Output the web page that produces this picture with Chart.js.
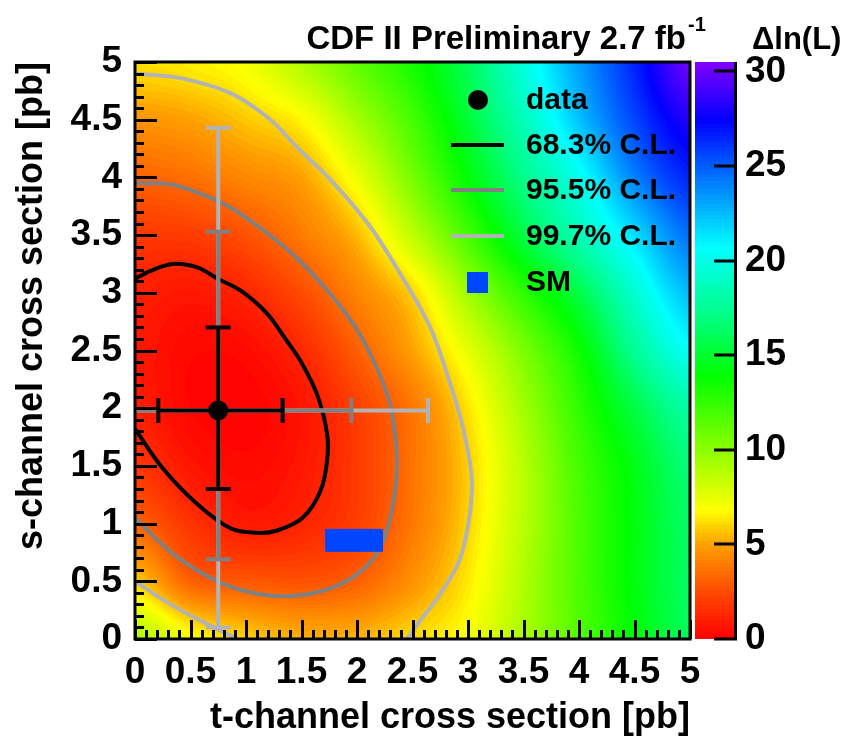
<!DOCTYPE html>
<html lang="en">
<head>
<meta charset="UTF-8"/>
<meta name="viewport" content="width=device-width, initial-scale=1.0"/>
<title>s-channel vs t-channel likelihood</title>
<script src="https://cdn.jsdelivr.net/npm/chart.js"></script>
<style>
    html, body { margin: 0; padding: 0; background: #ffffff; }
    #wrap { width: 848px; height: 742px; position: relative; }
</style>
</head>
<body>
<div id="wrap"><canvas id="lnlChart"></canvas></div>
<script>
    // Δln(L) surface sampled every 0.5 pb (rows: s-channel, columns: t-channel)
    const gridT = [0, 0.5, 1, 1.5, 2, 2.5, 3, 3.5, 4, 4.5, 5];
    const gridS = [0, 0.5, 1, 1.5, 2, 2.5, 3, 3.5, 4, 4.5, 5];
    const deltaLnL = [
        [9.0, 7.0, 5.9, 5.3, 5.4, 6.1, 7.0, 9.2, 11.6, 14.0, 16.0],
        [5.9, 3.2, 2.9, 2.7, 3.15, 4.6, 6.4, 9.0, 11.8, 14.2, 16.2],
        [3.2, 1.7, 0.85, 1.2, 2.1, 3.85, 6.0, 8.8, 11.8, 14.2, 16.3],
        [1.8, 0.7, 0.3, 0.75, 1.95, 3.7, 5.9, 8.8, 12.0, 14.4, 16.8],
        [1.0, 0.2, 0.05, 0.65, 2.1, 3.8, 6.3, 9.4, 12.6, 15.5, 18.0],
        [0.8, 0.25, 0.35, 1.3, 3.1, 5.0, 7.5, 10.5, 13.6, 17.5, 20.5],
        [1.05, 0.75, 1.25, 2.5, 4.2, 6.0, 9.5, 12.7, 15.6, 19.3, 22.5],
        [1.9, 2.0, 2.7, 3.9, 5.5, 8.6, 12.0, 15.5, 18.5, 21.5, 24.5],
        [3.2, 3.6, 4.3, 5.0, 7.3, 10.6, 14.0, 17.2, 20.2, 24.0, 26.5],
        [4.7, 5.0, 5.75, 6.7, 9.3, 12.0, 15.2, 18.6, 22.3, 25.6, 28.2],
        [6.2, 6.5, 7.1, 9.0, 11.2, 13.3, 16.0, 19.7, 23.2, 26.5, 30.0]
    ];

    // measured point and its 1D intervals
    const dataT = 0.75;
    const dataS = 1.98;
    const errS = { cl683: [1.30, 2.70], cl955: [0.69, 3.53], cl997: [0.10, 4.43] };
    const errT = { cl683: [0.21, 1.33], cl955: [-0.45, 1.95], cl997: [-1.15, 2.64] };

    // standard model expectation (box = its uncertainty)
    const smT = [1.72, 2.23];
    const smS = [0.76, 0.95];

    // 2D confidence contours [t, s]
    const contour683 = [[0, 1.82], [0.25, 1.48], [0.56, 1.17], [0.86, 0.96], [1.10, 0.92], [1.28, 0.94],
        [1.51, 1.05], [1.67, 1.28], [1.73, 1.54], [1.73, 1.78], [1.64, 2.12], [1.49, 2.41], [1.37, 2.58],
        [1.19, 2.82], [0.95, 3.02], [0.75, 3.12], [0.56, 3.22], [0.34, 3.25], [0.14, 3.19], [0, 3.12]];
    const contour955 = [[0, 3.95], [0.32, 3.94], [0.56, 3.87], [0.86, 3.74], [1.16, 3.54], [1.46, 3.30],
        [1.76, 2.99], [2.0, 2.68], [2.2, 2.3], [2.31, 1.98], [2.36, 1.55], [2.33, 1.20], [2.21, 0.79],
        [2.0, 0.56], [1.70, 0.42], [1.33, 0.37], [0.97, 0.42], [0.68, 0.53], [0.34, 0.74], [0, 1.05]];
    const contour997 = [[0, 4.90], [0.41, 4.86], [0.86, 4.73], [1.22, 4.50], [1.46, 4.26], [1.76, 3.98],
        [2.12, 3.57], [2.41, 3.13], [2.66, 2.70], [2.83, 2.24], [2.95, 1.85], [3.03, 1.43], [3.02, 1.11],
        [2.93, 0.70], [2.75, 0.39], [2.57, 0.16], [2.45, 0]];
    const contour997low = [[0, 0.50], [0.32, 0.30], [0.65, 0.13], [0.92, 0]];

    const axisTicks = [0, 0.5, 1, 1.5, 2, 2.5, 3, 3.5, 4, 4.5, 5];
    const zTicks = [0, 5, 10, 15, 20, 25, 30];
    const zMax = 30.5;

    // colour palette, Δln(L) -> rgb
    const paletteStops = [0, 2.5, 5, 6.8, 10, 13.9, 17, 20.7, 24, 27.4, 30.5];
    const paletteRGB = [[255, 0, 0], [255, 75, 0], [255, 160, 0], [255, 255, 0], [140, 255, 0], [0, 255, 0],
        [0, 255, 130], [0, 255, 255], [0, 130, 255], [0, 0, 255], [130, 0, 255]];

    const BLACK = '#000000';
    const DARK = '#808080';
    const LIGHT = '#b3b3b3';
    const SMBLUE = '#0046ff';
    const FONT = '"Liberation Sans", Arial, Helvetica, sans-serif';

    function colourFor(v) {
        v = Math.max(0, Math.min(zMax - 0.001, v));
        v = Math.floor(v / 0.2) * 0.2 + 0.1;
        let k = 0;
        while (k < paletteStops.length - 2 && v > paletteStops[k + 1]) k++;
        const f = (v - paletteStops[k]) / (paletteStops[k + 1] - paletteStops[k]);
        const a = paletteRGB[k], b = paletteRGB[k + 1];
        return [a[0] + (b[0] - a[0]) * f, a[1] + (b[1] - a[1]) * f, a[2] + (b[2] - a[2]) * f];
    }

    function cubic(p0, p1, p2, p3, u) {
        return p1 + 0.5 * u * (p2 - p0 + u * (2 * p0 - 5 * p1 + 4 * p2 - p3 + u * (3 * (p1 - p2) + p3 - p0)));
    }

    // bicubic read of the sampled surface
    function lnL(t, s) {
        const step = gridT[1] - gridT[0];
        const n = gridT.length;
        const fx = (t - gridT[0]) / step, fy = (s - gridS[0]) / step;
        const i = Math.max(0, Math.min(n - 2, Math.floor(fx)));
        const j = Math.max(0, Math.min(n - 2, Math.floor(fy)));
        const u = fx - i, w = fy - j;
        const cl = (k) => Math.max(0, Math.min(n - 1, k));
        const rows = [];
        for (let r = -1; r <= 2; r++) {
            const row = deltaLnL[cl(j + r)];
            rows.push(cubic(row[cl(i - 1)], row[i], row[cl(i + 1)], row[cl(i + 2)], u));
        }
        return cubic(rows[0], rows[1], rows[2], rows[3], w);
    }

    const pts = (arr) => arr.map(p => ({ x: p[0], y: p[1] }));
    const rgb = (c) => 'rgb(' + c.map(Math.round).join(',') + ')';

    function errorBar(values, vertical, colour, order) {
        return {
            data: vertical ? [{ x: dataT, y: values[0] }, { x: dataT, y: values[1] }]
                           : [{ x: values[0], y: dataS }, { x: values[1], y: dataS }],
            showLine: true, borderColor: colour, borderWidth: 4, tension: 0,
            pointStyle: 'line', pointRadius: 12.5, pointBorderWidth: 4, pointBorderColor: colour,
            pointRotation: vertical ? 0 : 90, order: order
        };
    }

    // heat map painted under the datasets
    const heatmap = {
        id: 'heatmap',
        beforeDatasetsDraw(chart) {
            const { ctx, chartArea: a, scales: { x, y } } = chart;
            const w = Math.round(a.right - a.left), h = Math.round(a.bottom - a.top);
            const off = document.createElement('canvas');
            off.width = w; off.height = h;
            const octx = off.getContext('2d');
            const img = octx.createImageData(w, h);
            for (let j = 0; j < h; j++) {
                const s = y.getValueForPixel(a.top + j + 0.5);
                for (let i = 0; i < w; i++) {
                    const c = colourFor(lnL(x.getValueForPixel(a.left + i + 0.5), s));
                    const k = (j * w + i) * 4;
                    img.data[k] = c[0]; img.data[k + 1] = c[1]; img.data[k + 2] = c[2]; img.data[k + 3] = 255;
                }
            }
            octx.putImageData(img, 0, 0);
            ctx.drawImage(off, a.left, a.top);
        }
    };

    // frame, inward ticks, colour bar, legend, header
    const decorations = {
        id: 'decorations',
        afterDatasetsDraw(chart) {
            const { ctx, chartArea: a, scales: { x, y, z } } = chart;
            ctx.save();
            ctx.strokeStyle = BLACK;
            ctx.lineWidth = 3;
            ctx.beginPath();
            for (let k = 0; k <= 50; k++) {
                const v = k / 10, major = k % 5 === 0;
                const px = Math.round(x.getPixelForValue(v)) + 0.5;
                ctx.moveTo(px, a.bottom); ctx.lineTo(px, a.bottom - (major ? 19 : 9));
                const py = Math.round(y.getPixelForValue(v)) + 0.5;
                ctx.moveTo(a.left, py); ctx.lineTo(a.left + (major ? 22 : 9), py);
            }
            ctx.stroke();
            ctx.strokeRect(a.left, a.top, a.right - a.left, a.bottom - a.top);

            // colour bar
            const barL = a.right + 5, barR = a.right + 44;
            for (let py = Math.floor(z.top); py < Math.ceil(z.bottom); py++) {
                ctx.fillStyle = rgb(colourFor(z.getValueForPixel(py + 0.5)));
                ctx.fillRect(barL, py, barR - barL, 1);
            }
            ctx.lineWidth = 3;
            ctx.beginPath();
            ctx.moveTo(barR + 1.5, z.top); ctx.lineTo(barR + 1.5, z.bottom + 1.5);
            zTicks.forEach(v => {
                const py = Math.round(z.getPixelForValue(v));
                ctx.moveTo(barR + 1.5, py); ctx.lineTo(barR - 20, py);
            });
            ctx.stroke();

            // legend
            const rowY = [100, 145, 190, 236, 282];
            ctx.textBaseline = 'middle';
            ctx.textAlign = 'left';
            ctx.font = 'bold 30px ' + FONT;
            chart.data.datasets.forEach(ds => {
                if (ds.legendRow === undefined) return;
                const ry = rowY[ds.legendRow];
                if (ds.legendKind === 'point') {
                    ctx.fillStyle = ds.pointBackgroundColor;
                    ctx.beginPath(); ctx.arc(478, ry, 10, 0, Math.PI * 2); ctx.fill();
                } else if (ds.legendKind === 'line') {
                    ctx.strokeStyle = ds.borderColor; ctx.lineWidth = 4;
                    ctx.beginPath(); ctx.moveTo(451, ry); ctx.lineTo(504, ry); ctx.stroke();
                } else {
                    ctx.fillStyle = ds.backgroundColor;
                    ctx.fillRect(467, ry - 10, 21, 21);
                }
                ctx.fillStyle = BLACK;
                ctx.fillText(ds.label, 526, ry + 1);
            });

            // header
            ctx.textBaseline = 'alphabetic';
            ctx.textAlign = 'right';
            ctx.font = 'bold 33px ' + FONT;
            ctx.fillText('CDF II Preliminary 2.7 fb', 686, 49);
            ctx.textAlign = 'left';
            ctx.font = 'bold 20px ' + FONT;
            ctx.fillText('-1', 688, 31);
            ctx.font = 'bold 31px ' + FONT;
            ctx.fillText('\u0394ln(L)', 752, 49);
            ctx.restore();
        }
    };

    Chart.defaults.font.family = FONT;
    Chart.defaults.color = BLACK;

    new Chart(document.getElementById('lnlChart'), {
        type: 'scatter',
        data: {
            datasets: [
                { label: 'data', data: [{ x: dataT, y: dataS }], pointRadius: 10, pointBackgroundColor: BLACK,
                  pointBorderWidth: 0, order: 0, legendRow: 0, legendKind: 'point' },
                errorBar(errS.cl683, true, BLACK, 1),
                errorBar(errT.cl683, false, BLACK, 1),
                errorBar(errS.cl955, true, DARK, 2),
                errorBar(errT.cl955, false, DARK, 2),
                errorBar(errS.cl997, true, LIGHT, 3),
                errorBar(errT.cl997, false, LIGHT, 3),
                { label: 'SM', data: pts([[smT[0], smS[0]], [smT[1], smS[0]], [smT[1], smS[1]], [smT[0], smS[1]], [smT[0], smS[0]]]),
                  showLine: true, fill: 'shape', backgroundColor: SMBLUE, borderColor: SMBLUE, borderWidth: 1,
                  tension: 0, pointRadius: 0, order: 4, legendRow: 4, legendKind: 'box' },
                { label: '68.3% C.L.', data: pts(contour683), showLine: true, borderColor: BLACK, borderWidth: 4,
                  tension: 0.35, pointRadius: 0, order: 5, legendRow: 1, legendKind: 'line' },
                { label: '95.5% C.L.', data: pts(contour955), showLine: true, borderColor: DARK, borderWidth: 4,
                  tension: 0.35, pointRadius: 0, order: 6, legendRow: 2, legendKind: 'line' },
                { label: '99.7% C.L.', data: pts(contour997), showLine: true, borderColor: LIGHT, borderWidth: 4,
                  tension: 0.35, pointRadius: 0, order: 7, legendRow: 3, legendKind: 'line' },
                { label: '99.7% C.L. (low)', data: pts(contour997low), showLine: true, borderColor: LIGHT, borderWidth: 4,
                  tension: 0.35, pointRadius: 0, order: 7 }
            ]
        },
        options: {
            responsive: true,
            maintainAspectRatio: false,
            animation: false,
            events: [],
            layout: { padding: { top: 62, left: 0, right: 0, bottom: 0 } },
            plugins: { legend: { display: false }, tooltip: { enabled: false } },
            scales: {
                x: {
                    type: 'linear', min: 0, max: 5,
                    afterBuildTicks: (s) => { s.ticks = axisTicks.map(v => ({ value: v })); },
                    afterFit: (s) => { s.height = 103; },
                    grid: { display: false, drawTicks: false },
                    border: { display: false },
                    ticks: { autoSkip: false, maxRotation: 0, padding: 12, font: { size: 37, weight: 'bold' },
                             callback: (v) => String(v) },
                    title: { display: true, text: 't-channel cross section [pb]', align: 'end',
                             padding: { top: 0, bottom: 2 }, font: { size: 36, weight: 'bold' } }
                },
                y: {
                    type: 'linear', min: 0, max: 5,
                    afterBuildTicks: (s) => { s.ticks = axisTicks.map(v => ({ value: v })); },
                    afterFit: (s) => { s.width = 135; },
                    grid: { display: false, drawTicks: false },
                    border: { display: false },
                    ticks: { autoSkip: false, padding: 13, font: { size: 37, weight: 'bold' },
                             callback: (v) => String(v) },
                    title: { display: true, text: 's-channel cross section [pb]', align: 'end',
                             padding: { top: 10, bottom: 0 }, font: { size: 36, weight: 'bold' } }
                },
                z: {
                    type: 'linear', position: 'right', min: 0, max: zMax,
                    afterBuildTicks: (s) => { s.ticks = zTicks.map(v => ({ value: v })); },
                    afterFit: (s) => { s.width = 158; },
                    // transparent tick marks only push the labels clear of the colour bar
                    grid: { display: true, drawOnChartArea: false, drawTicks: true, tickLength: 52,
                            color: 'rgba(0,0,0,0)' },
                    border: { display: false },
                    ticks: { autoSkip: false, padding: 3, font: { size: 37, weight: 'bold' } }
                }
            }
        },
        plugins: [heatmap, decorations]
    });
</script>
</body>
</html>
